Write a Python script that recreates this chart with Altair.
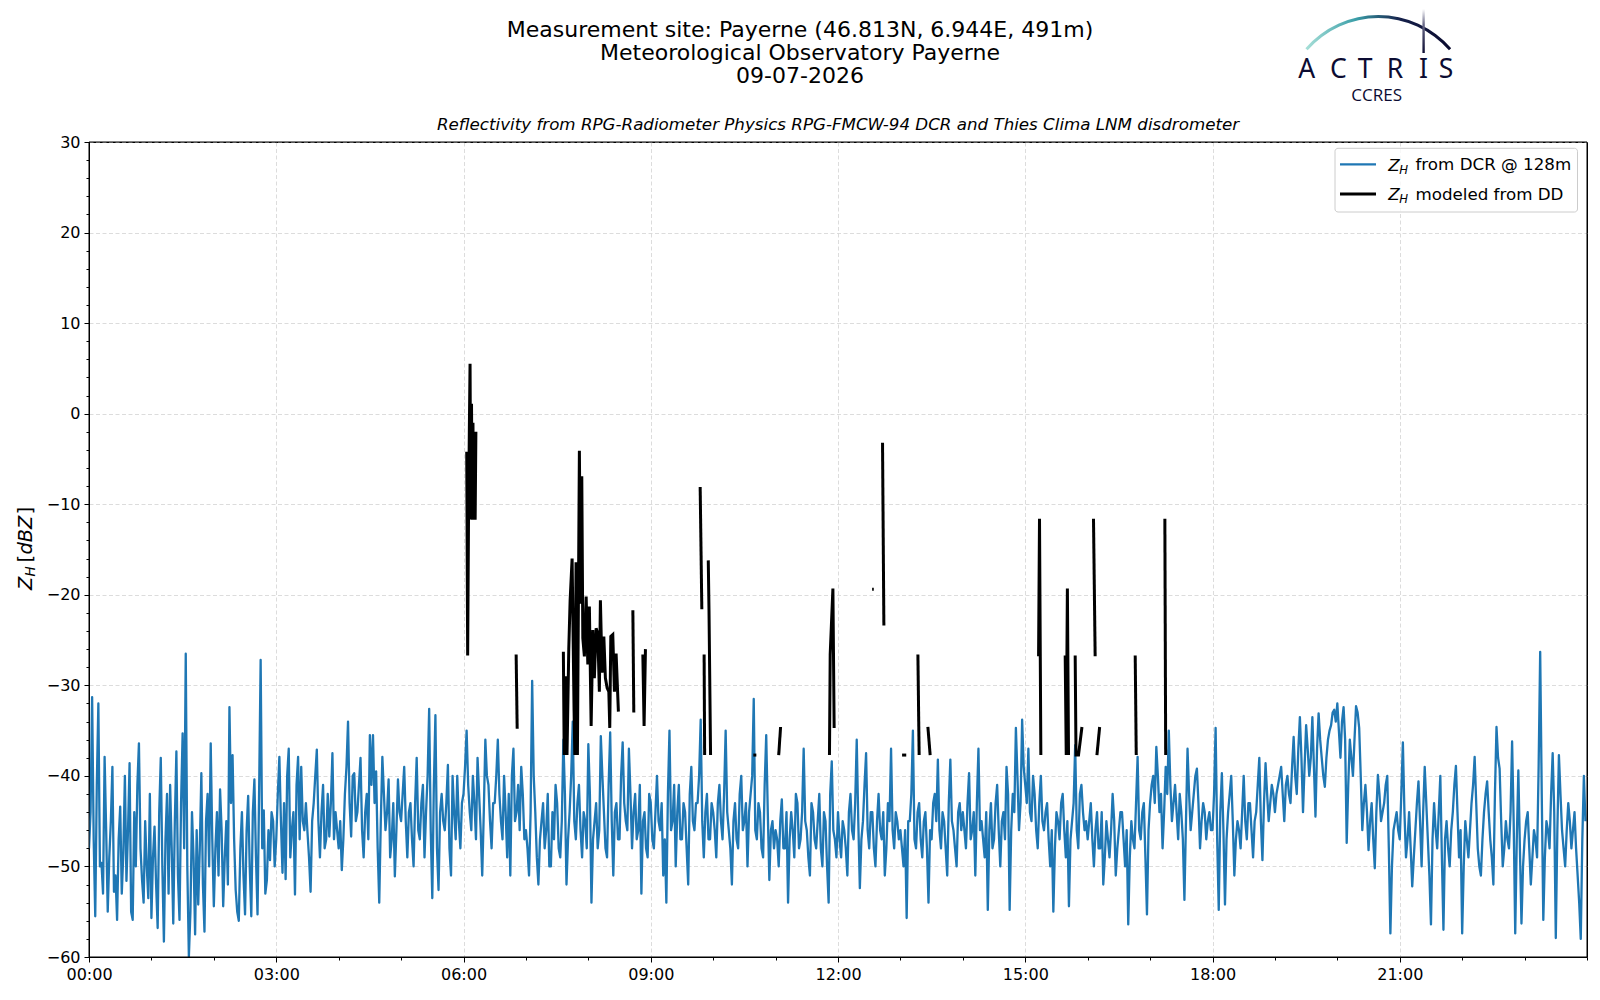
import altair as alt
import numpy as np
import pandas as pd

# ---------------- data: DCR reflectivity @128 m ----------------
# samples on the full 3-minute grid (00:00, 00:03, ...)
dcr_step_min = 3
dcr_h00 = [-48,-31.3,-55.5,-32,-49.6,-37.9,-55,-45,-52.8,-55.9,-43.4,-48.5,-51.6,-38.6,-55.9,-50,-36.4,-51.5,-45,-53.5]
dcr_h01 = [-55.7,-45.6,-56.8,-38,-58.3,-42,-41,-56.3,-37.3,-55.9,-35.3,-26.5,-60,-44,-57.5,-54.2,-39.7,-57.2,-42,-36.4]
dcr_h02 = [-54.4,-44,-41.5,-54.4,-45,-32.4,-37.7,-52.6,-56,-44,-55.3,-42.2,-55.5,-40.4,-55.3,-27.2,-43.8,-51.5,-49.3,-45]
dcr_h03 = [-47,-37.9,-50.7,-51.4,-37,-46,-53.1,-37.9,-39,-46,-46.2,-52.8,-43,-37.1,-49,-41,-47,-46.7,-37.5,-44]
dcr_h04 = [-48,-50.4,-42,-34,-46.7,-39.7,-44,-38,-49,-42,-35.5,-35.5,-39.5,-54,-37.9,-46,-40.4,-47,-51.1,-40.4]
dcr_h05 = [-45,-39,-49,-43,-50,-38,-47,-41,-44,-32.6,-53.5,-33.3,-52.6,-42,-46,-38.8,-51,-44,-40,-48]
dcr_h06 = [-42,-35,-44,-40,-47,-42,-51,-36,-41,-48,-43,-36,-45,-40,-49,-51,-37,-44,-46,-42]
dcr_h07 = [-46,-51,-29.5,-44,-52,-45,-48,-42,-50,-47,-43,-49,-36,-52,-44,-34,-47,-41,-49,-45]
dcr_h08 = [-36.5,-54,-45,-48,-35.6,-44,-49,-35.2,-51,-43,-47,-36.3,-45,-37,-48,-42,-46,-53,-44,-49]
dcr_h09 = [-43,-48,-40,-46,-51,-54,-35,-45,-50,-41,-47,-44,-52,-39,-46,-43,-33.8,-49,-42,-47]
dcr_h10 = [-44,-49,-41,-47,-35,-46,-52,-43,-48,-40,-45,-50,-42,-31.5,-47,-44,-49,-35.5,-51.5,-45]
dcr_h11 = [-46,-50,-42.6,-48,-54,-44,-49,-43,-47,-37,-46,-51,-44,-48,-42,-50,-45,-54,-38.4,-47]
dcr_h12 = [-44,-49,-46,-51,-42,-47,-36,-52.4,-45,-37.5,-48,-44,-50,-42,-47,-51,-43,-37,-48,-45]
dcr_h13 = [-46,-50,-55.7,-45,-35,-48,-43,-49,-44,-54,-47,-42,-38.2,-48,-45,-51,-38.2,-46,-50,-43]
dcr_h14 = [-44,-48,-39.7,-46,-51,-37,-45,-49,-54.8,-43,-47,-41,-50,-44,-39,-54.8,-42,-34.7,-46,-33.8]
dcr_h15 = [-41,-37,-45,-42,-48,-40,-46,-43,-50,-55,-44,-47,-42,-49,-54.4,-45,-36.6,-48,-41,-46]
dcr_h16 = [-47,-43,-50,-44,-48,-52,-45,-49,-42,-51,-46,-44,-50,-56.4,-45,-48,-37.9,-47,-43,-55.3]
dcr_h17 = [-43,-40,-36.8,-44,-48,-39,-35,-45,-41,-47,-44,-53.7,-37,-46,-42,-39.2,-48,-43,-47,-44]
dcr_h18 = [-46,-34.7,-54.8,-39.7,-54.2,-44,-40,-51,-45,-48,-40,-47,-43,-49,-44,-38,-49.3,-38.6,-45,-41]
dcr_h19 = [-44,-41,-39,-45,-40,-43,-35.7,-42,-33.5,-44,-34.4,-40,-33.5,-44.5,-33.1,-38,-41.2,-36,-34.4,-32.7]
dcr_h20 = [-32,-38,-32.4,-47.4,-36,-40,-32.3,-34.7,-46,-41,-48.2,-43,-50.2,-39.9,-45,-43,-40,-57.4,-46,-44]
dcr_h21 = [-47,-36.3,-49,-44,-52.2,-46,-40.6,-50,-39,-47,-56.4,-43,-48,-40,-57,-45,-50,-44,-38.9,-49]
dcr_h22 = [-57.4,-45,-49,-43,-37.9,-48,-51,-44,-40.6,-47,-52,-34.6,-39.2,-50,-45,-48,-36.2,-57.4,-39.4,-56.3]
dcr_h23 = [-47,-44,-52,-46,-49,-26.3,-55.9,-45,-48,-37.5,-57.9,-37.7,-46,-50,-43,-48,-44,-51,-58,-40]

# samples half-way between them (00:01:30, 00:04:30, ...)
dcr_m00 = [-44,-47,-41,-50,-53,-46,-49,-39,-51,-47,-53,-40,-46,-55,-44,-41,-48,-54,-50,-42]
dcr_m01 = [-49,-52,-44,-50,-47,-53,-48,-45,-51,-43,-48,-50,-55,-49,-46,-48,-52,-45,-50,-47]
dcr_m02 = [-48,-51,-46,-49,-52,-43,-47,-55,-48,-51,-46,-50,-44,-49,-42,-48,-53,-46,-44,-50]
dcr_m03 = [-42,-45,-43,-40,-49,-44,-41,-47,-45,-43,-49,-45,-40,-45,-44,-48,-42,-43,-47,-46]
dcr_m04 = [-45,-47,-39,-43,-40,-45,-41,-46,-44,-47,-41,-43,-48,-45,-42,-44,-49,-43,-46,-44]
dcr_m05 = [-42,-45,-44,-47,-43,-46,-43,-49,-40,-46,-41,-48,-44,-45,-43,-48,-40,-47,-45,-43]
dcr_m06 = [-39,-41,-46,-43,-38,-46,-44,-40,-45,-43,-40,-42,-47,-44,-42,-40,-45,-41,-39,-47]
dcr_m07 = [-48,-44,-40,-49,-47,-43,-46,-50,-44,-41,-48,-45,-42,-47,-40,-45,-43,-46,-44,-48]
dcr_m08 = [-42,-47,-43,-46,-40,-48,-41,-45,-44,-47,-40,-43,-46,-42,-44,-47,-41,-45,-48,-42]
dcr_m09 = [-47,-44,-45,-43,-47,-42,-46,-41,-44,-47,-43,-48,-42,-45,-43,-40,-45,-44,-47,-43]
dcr_m10 = [-46,-43,-45,-42,-44,-48,-45,-47,-42,-46,-43,-44,-40,-46,-43,-48,-41,-44,-46,-48]
dcr_m11 = [-47,-45,-48,-44,-47,-46,-42,-48,-44,-45,-49,-43,-47,-45,-48,-44,-50,-42,-46,-49]
dcr_m12 = [-47,-45,-48,-44,-46,-43,-45,-47,-41,-46,-44,-48,-45,-46,-44,-48,-45,-46,-44,-47]
dcr_m13 = [-48,-46,-45,-42,-47,-44,-47,-45,-48,-46,-43,-45,-46,-44,-48,-43,-45,-48,-44,-46]
dcr_m14 = [-46,-43,-47,-44,-43,-46,-47,-44,-46,-48,-43,-46,-45,-47,-42,-46,-44,-40,-43,-39]
dcr_m15 = [-43,-44,-40,-46,-43,-45,-44,-47,-46,-48,-45,-43,-46,-45,-47,-43,-46,-42,-44,-45]
dcr_m16 = [-45,-47,-46,-48,-44,-49,-47,-46,-45,-48,-44,-47,-46,-49,-47,-43,-46,-44,-49,-46]
dcr_m17 = [-41,-43,-40,-42,-44,-42,-41,-43,-44,-42,-47,-45,-42,-44,-40,-43,-45,-44,-45,-46]
dcr_m18 = [-42,-47,-44,-46,-47,-42,-45,-47,-46,-44,-45,-43,-46,-45,-41,-45,-43,-42,-43,-42]
dcr_m19 = [-42,-40,-42,-41,-42,-39,-40,-37,-38,-39,-37,-38,-39,-37,-36,-40,-38,-35,-33,-34]
dcr_m20 = [-35,-34,-36,-41,-38,-36,-33,-40,-43,-44,-45,-47,-44,-42,-44,-41,-48,-50,-45,-46]
dcr_m21 = [-42,-44,-47,-48,-49,-43,-45,-44,-43,-51,-47,-46,-44,-49,-47,-48,-46,-41,-44,-46]
dcr_m22 = [-50,-47,-46,-41,-43,-50,-47,-42,-44,-49,-42,-38,-45,-48,-47,-44,-45,-47,-48,-50]
dcr_m23 = [-45,-48,-49,-47,-39,-42,-49,-46,-42,-44,-46,-42,-48,-46,-45,-46,-48,-54,-47,-45]

dcr_grid_dbz = (dcr_h00 + dcr_h01 + dcr_h02 + dcr_h03 + dcr_h04 + dcr_h05 + dcr_h06 + dcr_h07
                + dcr_h08 + dcr_h09 + dcr_h10 + dcr_h11 + dcr_h12 + dcr_h13 + dcr_h14 + dcr_h15
                + dcr_h16 + dcr_h17 + dcr_h18 + dcr_h19 + dcr_h20 + dcr_h21 + dcr_h22 + dcr_h23)
dcr_half_dbz = (dcr_m00 + dcr_m01 + dcr_m02 + dcr_m03 + dcr_m04 + dcr_m05 + dcr_m06 + dcr_m07
                + dcr_m08 + dcr_m09 + dcr_m10 + dcr_m11 + dcr_m12 + dcr_m13 + dcr_m14 + dcr_m15
                + dcr_m16 + dcr_m17 + dcr_m18 + dcr_m19 + dcr_m20 + dcr_m21 + dcr_m22 + dcr_m23)
dcr_minutes = ([i * dcr_step_min for i in range(len(dcr_grid_dbz))]
               + [i * dcr_step_min + dcr_step_min / 2 for i in range(len(dcr_half_dbz))])
dcr_dbz = dcr_grid_dbz + dcr_half_dbz

# ---------------- data: Z_H modeled from disdrometer (segments separated by gaps) ----------------
dd_minutes = [
    363.1, 364.0, 364.8, 365.6, 366.3, 367.0, 367.7, 368.4, 369.1, 369.8, 370.5, 371.2, 371.9,
    410.6, 411.6,
    456.0, 456.8, 458.3, 459.5, 461.2, 462.5, 464.4, 466.3, 467.0, 468.2, 469.5, 471.4, 472.5,
    473.7, 474.7, 476.2, 477.9, 479.5, 481.0, 482.7, 484.3, 485.8, 487.5, 489.1, 490.6, 491.6,
    493.2, 494.9, 496.4, 498.1, 499.7, 500.6, 501.6, 503.5, 505.1, 506.7, 508.9,
    522.8, 523.7,
    532.4, 533.6, 534.9,
    587.5, 589.1,
    591.3, 591.8,
    595.3, 596.0, 597.5,
    638.6, 641.5,
    663.0, 664.8,
    711.8, 712.5, 715.1, 716.3,
    752.8, 754.4,
    762.8, 764.1,
    781.6, 785.6,
    796.8, 798.0,
    806.4, 808.6,
    912.8, 913.7, 915.0,
    938.4, 939.4, 940.5, 941.6,
    948.0, 948.8, 951.2, 954.5,
    965.6, 967.2,
    968.9, 971.5,
    1005.7, 1006.7,
    1034.2, 1035.0,
]
dd_dbz = [
    -4.2, -26.7, -12.0, -2.0, 5.5, -11.7, 1.1, -11.7, -1.0, -11.7, -3.0, -11.7, -2.0,
    -26.6, -34.8,
    -26.3, -37.7, -29.0, -37.7, -26.0, -20.6, -16.0, -32.9, -37.7, -16.4, -37.7, -4.1, -21.0,
    -6.9, -24.8, -26.8, -20.2, -27.7, -21.3, -34.5, -23.9, -29.2, -23.7, -24.3, -30.7, -20.6,
    -28.6, -24.6, -29.2, -30.3, -30.7, -34.7, -24.6, -24.4, -30.7, -26.5, -32.9,
    -21.7, -33.0,
    -26.6, -34.5, -26.0,
    -8.1, -21.6,
    -26.6, -37.7,
    -16.2, -21.7, -37.7,
    -37.7, -37.7,
    -37.7, -34.6,
    -37.7, -26.6, -19.3, -34.7,
    -19.4, -19.4,
    -3.2, -23.4,
    -37.7, -37.7,
    -26.6, -37.7,
    -34.6, -37.7,
    -26.8, -11.6, -37.7,
    -26.7, -37.7, -19.3, -37.7,
    -26.7, -37.7, -37.7, -34.6,
    -11.6, -26.8,
    -37.7, -34.6,
    -26.7, -37.7,
    -11.6, -37.7,
]
dd_segment_sizes = [13, 2, 37, 2, 3, 2, 2, 3, 2, 2, 4, 2, 2, 2, 2, 2, 3, 4, 4, 2, 2, 2, 2]
dd_segment = [i for i, n in enumerate(dd_segment_sizes) for _ in range(n)]

# ---------------- texts ----------------
title_lines = ["Measurement site: Payerne (46.813N, 6.944E, 491m)",
               "Meteorological Observatory Payerne",
               "09-07-2026"]
subtitle = "Reflectivity from RPG-Radiometer Physics RPG-FMCW-94 DCR and Thies Clima LNM disdrometer"
legend_labels = ["from DCR @ 128m", "modeled from DD"]
x_tick_minutes = list(range(0, 1440, 180))
x_minor_minutes = list(range(0, 1441, 60))
y_ticks = list(range(-60, 31, 10))
y_minor = list(range(-60, 31, 2))

# ---------------- layout (pixels in plot coordinates) ----------------
W, H = 1498, 815
FONT = "DejaVu Sans"
BLUE = "#1f77b4"
NAVY = "#0c0c32"

dcr_df = pd.DataFrame({"minute": dcr_minutes, "dbz": dcr_dbz}).sort_values("minute")
dd_df = pd.DataFrame({"minute": dd_minutes, "dbz": dd_dbz, "seg": dd_segment})
one = pd.DataFrame({"k": [0]})

xscale = alt.Scale(domain=[0, 1440], nice=False, zero=False)
yscale = alt.Scale(domain=[-60, 30], nice=False, zero=False)

x_major = alt.Axis(values=x_tick_minutes, title=None, grid=True, tickSize=5, labelPadding=4,
                   labelFlush=False, labelOverlap=False,
                   labelExpr="(datum.value < 600 ? '0' : '') + floor(datum.value / 60) + ':00'",
                   orient="bottom")
y_major = alt.Axis(values=y_ticks, title=None, grid=True, tickSize=5, labelPadding=4,
                   labelFlush=False, labelOverlap=False,
                   labelExpr="replace(format(datum.value, 'd'), '-', '\u2212')", orient="left")

dcr_line = alt.Chart(dcr_df).mark_line(color=BLUE, strokeWidth=2.3, clip=True, strokeJoin="round").encode(
    x=alt.X("minute:Q", scale=xscale, axis=x_major),
    y=alt.Y("dbz:Q", scale=yscale, axis=y_major),
)

minor = alt.Chart(dcr_df).mark_line(opacity=0).encode(
    x=alt.X("minute:Q", axis=alt.Axis(values=x_minor_minutes, labels=False, grid=False, domain=False,
                                      tickSize=3, title=None, orient="bottom")),
    y=alt.Y("dbz:Q", axis=alt.Axis(values=y_minor, labels=False, grid=False, domain=False,
                                   tickSize=3, title=None, orient="left")),
)

dd_line = alt.Chart(dd_df).mark_line(color="black", strokeWidth=3.0, clip=True).encode(
    x=alt.X("minute:Q", axis=None),
    y=alt.Y("dbz:Q", axis=None),
    detail="seg:N",
)

frame = alt.Chart(one).mark_rect(fillOpacity=0, stroke="black", strokeWidth=1).encode(
    x=alt.value(0), x2=alt.value(W), y=alt.value(0), y2=alt.value(H))


def txt(s, x, y, size, style="normal", align="left", angle=None, font=FONT, color="black"):
    kw = dict(text=s, fontSize=size, fontStyle=style, align=align, baseline="alphabetic",
              font=font, color=color)
    if angle is not None:
        kw["angle"] = angle
    return alt.Chart(one).mark_text(**kw).encode(x=alt.value(x), y=alt.value(y))


layers = [dcr_line, minor, dd_line, frame]

# titles
for line, yb in zip(title_lines, [-105.5, -82.5, -59.5]):
    layers.append(txt(line, 711, yb, 22, align="center"))
layers.append(txt(subtitle, 749, -12.5, 16.7, style="italic", align="center"))

# y-axis title  Z_H [dBZ]
layers += [
    txt("Z", -57.5, 448, 19.4, style="italic", angle=270),
    txt("H", -54.5, 434.5, 13.6, style="italic", angle=270),
    txt("[", -57.5, 420.5, 19.4, angle=270),
    txt("dBZ", -57.5, 412.5, 19.4, style="italic", angle=270),
    txt("]", -57.5, 372.5, 19.4, angle=270),
]

# legend
layers.append(alt.Chart(one).mark_rect(fill="white", fillOpacity=0.8, stroke="#cccccc",
                                       strokeWidth=1, cornerRadius=3).encode(
    x=alt.value(1246), x2=alt.value(1488.5), y=alt.value(6.3), y2=alt.value(70)))
for (label, color, width, yc) in zip(legend_labels, [BLUE, "black"], [2.3, 3.0], [22.3, 52.0]):
    layers.append(alt.Chart(one).mark_rule(color=color, strokeWidth=width).encode(
        x=alt.value(1251), x2=alt.value(1287), y=alt.value(yc)))
    layers.append(txt("Z", 1299.3, yc + 6.2, 16.7, style="italic"))
    layers.append(txt("H", 1310.3, yc + 9.2, 11.7, style="italic"))
    layers.append(txt(label, 1326.5, yc + 6.0, 16.7))

# ACTRIS / CCRES logo
arc_grad = alt.Gradient(gradient="linear", x1=0, y1=0, x2=1, y2=0, stops=[
    alt.GradientStop(offset=0, color="#a8e0d8"),
    alt.GradientStop(offset=0.35, color="#3a9ea8"),
    alt.GradientStop(offset=0.65, color="#15204a"),
    alt.GradientStop(offset=1, color="#0a0a2e"),
])
layers.append(alt.Chart(one).mark_arc(theta=2 * np.pi - 0.853, theta2=2 * np.pi + 0.853,
                                      radius=96.8, innerRadius=93.8, fill=arc_grad).encode(
    x=alt.value(1289.3), y=alt.value(-30.1)))
bar_grad = alt.Gradient(gradient="linear", x1=0, y1=0, x2=0, y2=1, stops=[
    alt.GradientStop(offset=0, color="#ffffff"),
    alt.GradientStop(offset=0.35, color="#6a6a88"),
    alt.GradientStop(offset=1, color=NAVY),
])
layers.append(alt.Chart(one).mark_rect(fill=bar_grad).encode(
    x=alt.value(1333.4), x2=alt.value(1335.8), y=alt.value(-133), y2=alt.value(-89)))
for letter, cx in zip(["A", "C", "T", "R", "I", "S"], [1217.7, 1249.3, 1276.0, 1306.0, 1334.6, 1357.0]):
    layers.append(txt(letter, cx, -64.5, 26.5, align="center", font="Noto Sans", color=NAVY))
layers.append(txt("CCRES", 1287.7, -41.0, 17, align="center", font="Open Sans", color=NAVY))

chart = alt.layer(*layers).resolve_axis(x="independent", y="independent").properties(
    width=W, height=H,
    autosize=alt.AutoSizeParams(type="none"),
    padding={"left": 81, "top": 134, "right": 5, "bottom": 30},
).configure_view(stroke="black", strokeWidth=1).configure_axis(
    labelFont=FONT, labelFontSize=16, labelColor="black",
    tickColor="black", domainColor="black", domainWidth=1, tickWidth=1,
    gridColor="#d3d3d3", gridDash=[4, 2.5], gridWidth=0.8,
)

chart.save("out.html", embed_options={"renderer": "svg", "actions": False})
